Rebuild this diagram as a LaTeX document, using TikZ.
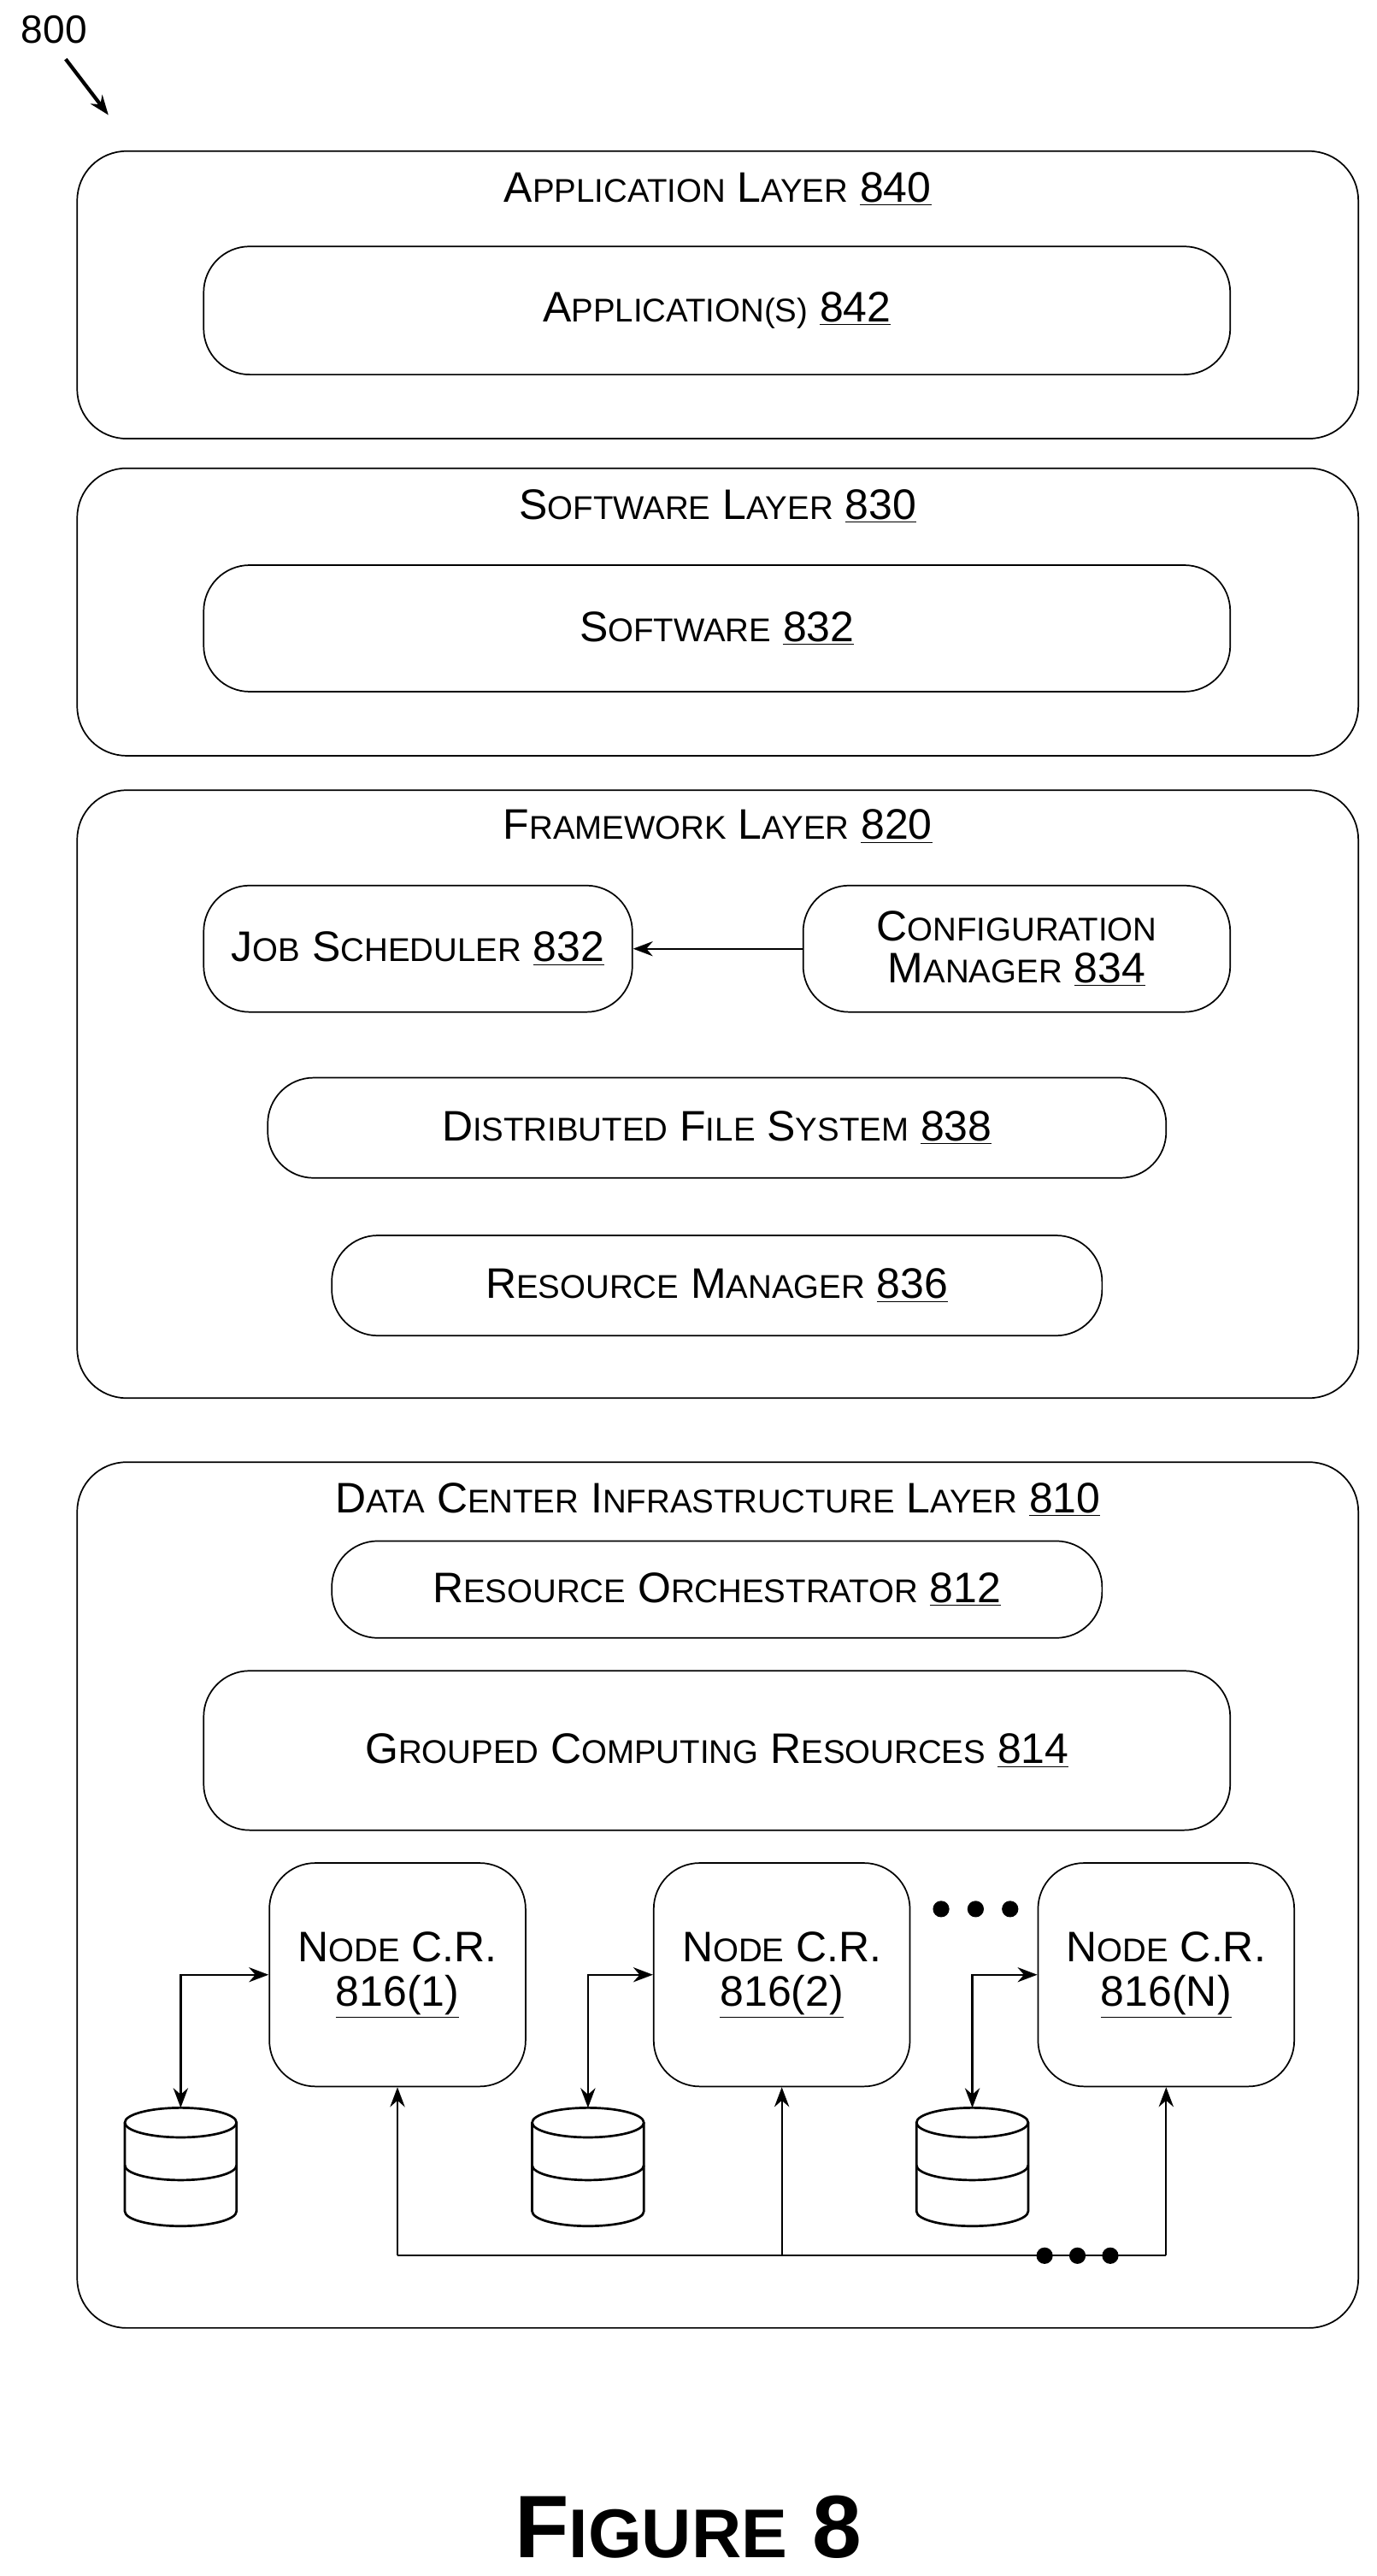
\documentclass[tikz,border=0pt]{standalone}
\usepackage{fontspec}
\setmainfont{Liberation Sans}
\usetikzlibrary{arrows.meta}
\newcommand\scw[2]{#1{\fontsize{20}{22}\selectfont #2}}
\tikzset{
  layer/.style={draw, rounded corners=30pt, line width=0.9pt},
  box/.style={draw, rounded corners=28pt, line width=0.9pt, align=center,
    font=\fontsize{26}{29}\selectfont},
  ttl/.style={font=\fontsize{26}{29}\selectfont},
  arr/.style={-{Stealth[length=12pt,width=9pt]}, line width=1.2pt},
  darr/.style={{Stealth[length=12pt,width=9pt]}-{Stealth[length=12pt,width=9pt]}, line width=1.2pt},
  dot/.style={fill, circle, inner sep=0pt, minimum size=10pt},
  disk/.style={line width=1.4pt}
}
\begin{document}
\begin{tikzpicture}[x=1pt, y=-1pt]
\useasboundingbox (0,0) rectangle (838,1568);
% Label
\node[font=\fontsize{24}{26}\selectfont] (lbl) at (33,18) {800};
\coordinate (lbltip) at (66,70);
\draw[arr, line width=2.2pt] (40,36) -- (lbltip);

% Application layer
\draw[layer] (47,92) rectangle (827,267);
\node[ttl] (appt) at (437,115) {\scw{A}{PPLICATION} \scw{L}{AYER} \underline{840}};
\node[box, minimum width=625pt, minimum height=78pt] (app) at (436.5,189) {\scw{A}{PPLICATION(S)} \underline{842}};

% Software layer
\draw[layer] (47,285) rectangle (827,460);
\node[ttl] (swt) at (437,308) {\scw{S}{OFTWARE} \scw{L}{AYER} \underline{830}};
\node[box, minimum width=625pt, minimum height=77pt] (sw) at (436.5,382.5) {\scw{S}{OFTWARE} \underline{832}};

% Framework layer
\draw[layer] (47,481) rectangle (827,851);
\node[ttl] (fwt) at (437,503) {\scw{F}{RAMEWORK} \scw{L}{AYER} \underline{820}};
\node[box, minimum width=261pt, minimum height=77pt] (job) at (254.5,577.5) {\scw{J}{OB} \scw{S}{CHEDULER} \underline{832}};
\node[box, minimum width=260pt, minimum height=77pt] (cfg) at (619,577.5) {\scw{C}{ONFIGURATION}\\[-4pt]\scw{M}{ANAGER} \underline{834}};
\node[box, minimum width=547pt, minimum height=61pt] (dfs) at (436.5,686.5) {\scw{D}{ISTRIBUTED} \scw{F}{ILE} \scw{S}{YSTEM} \underline{838}};
\node[box, minimum width=469pt, minimum height=61pt] (rm) at (436.5,782.5) {\scw{R}{ESOURCE} \scw{M}{ANAGER} \underline{836}};
\draw[arr] (cfg) -- (job);

% Data center infrastructure layer
\draw[layer] (47,890) rectangle (827,1417);
\node[ttl] (dct) at (437,913) {\scw{D}{ATA} \scw{C}{ENTER} \scw{I}{NFRASTRUCTURE} \scw{L}{AYER} \underline{810}};
\node[box, minimum width=469pt, minimum height=59pt] (ro) at (436.5,967.5) {\scw{R}{ESOURCE} \scw{O}{RCHESTRATOR} \underline{812}};
\node[box, minimum width=625pt, minimum height=97pt] (gcr) at (436.5,1065.5) {\scw{G}{ROUPED} \scw{C}{OMPUTING} \scw{R}{ESOURCES} \underline{814}};
\foreach \n/\x/\t/\c in {1/242/1/110, 2/476/2/358, 3/710/N/592} {
  \node[box, minimum width=156pt, minimum height=136pt] (ncr\n) at (\x,1202) {\scw{N}{ODE} C.R.\\[-2pt]\underline{816(\t)}};
  % disk
  \draw[disk] (\c,1292) ellipse[x radius=34pt, y radius=9pt];
  \draw[disk] ([xshift=-34pt]\c,1292) -- ([xshift=-34pt]\c,1346)
    arc[start angle=180, end angle=360, x radius=34pt, y radius=9pt] -- ([xshift=34pt]\c,1292);
  \draw[disk] ([xshift=-34pt]\c,1318) arc[start angle=180, end angle=360, x radius=34pt, y radius=9pt];
  \coordinate (db\n) at (\c,1283);
  \draw[darr] (db\n) |- (ncr\n.west);
  \coordinate (bus\n) at (\x,1373);
  \draw[arr] (bus\n) -- (ncr\n.south);
}
\draw[line width=1.2pt] (bus1) -- (bus3);
\node[dot] (d1) at (573,1162) {};
\node[dot] (d2) at (594,1162) {};
\node[dot] (d3) at (615,1162) {};
\node[dot] (e1) at (636,1373) {};
\node[dot] (e2) at (656,1373) {};
\node[dot] (e3) at (676,1373) {};

% Figure caption
\node[font=\fontsize{54}{60}\selectfont\bfseries] (fig) at (419,1538) {\scw{F}{\fontsize{42}{46}\selectfont IGURE} 8};
\end{tikzpicture}
\end{document}
